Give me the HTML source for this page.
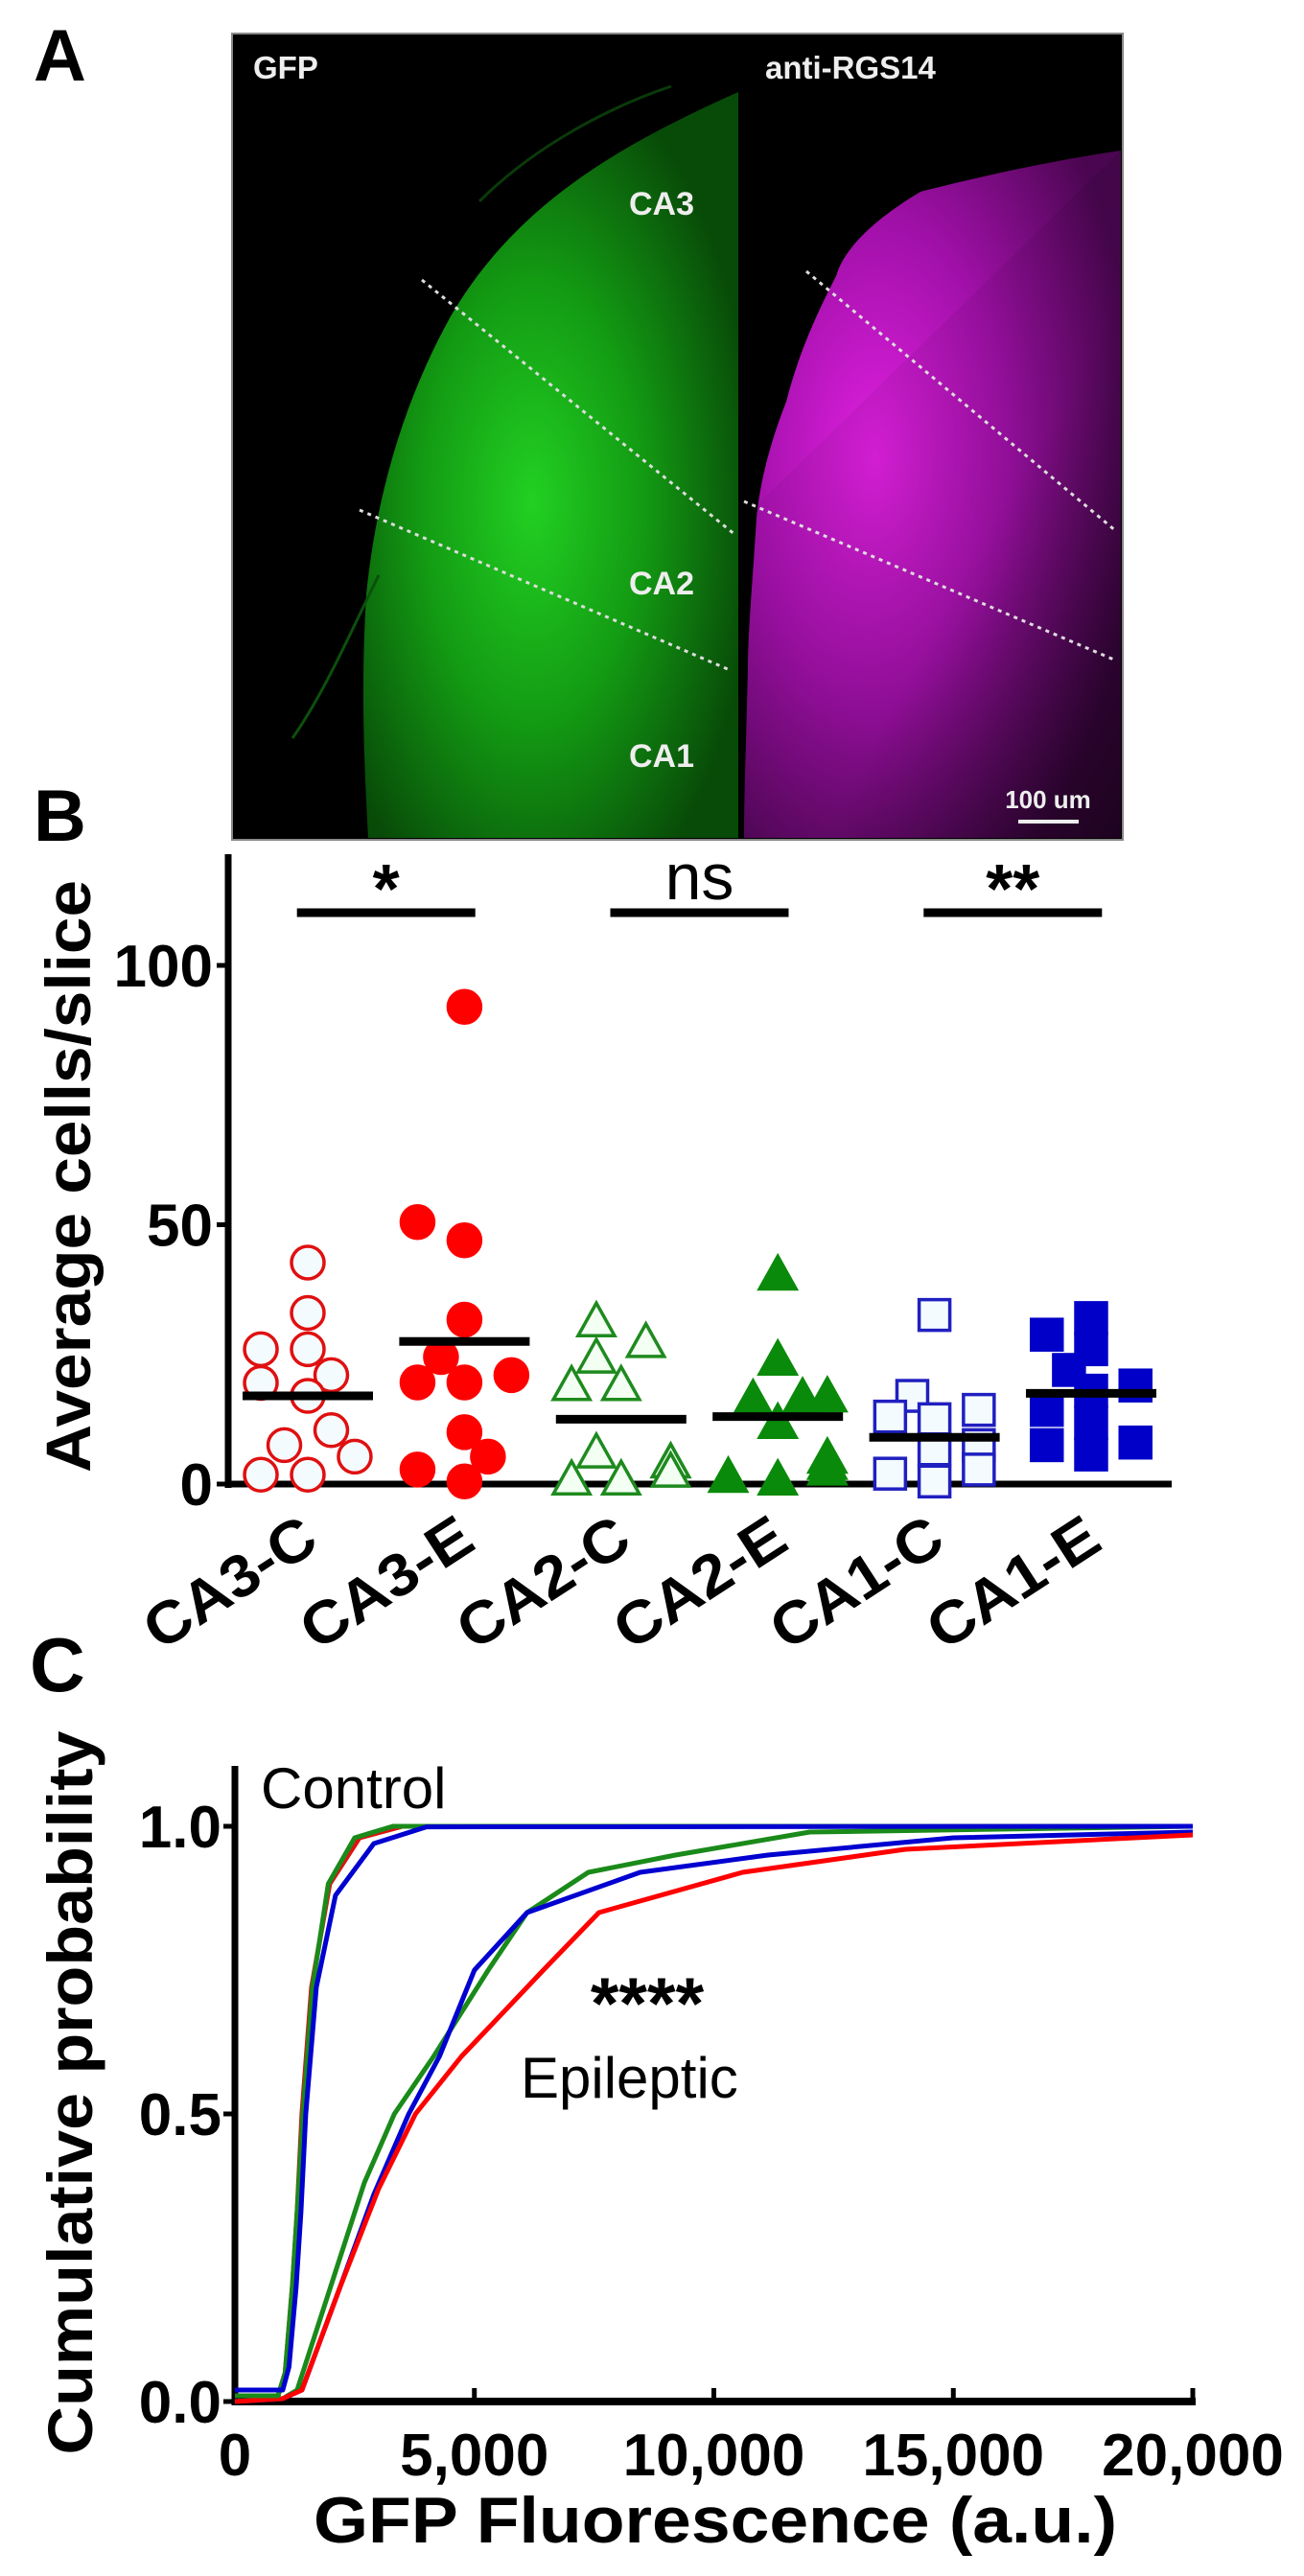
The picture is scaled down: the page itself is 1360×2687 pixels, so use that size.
<!DOCTYPE html>
<html><head><meta charset="utf-8"><style>
html,body{margin:0;padding:0;background:#fff;}
svg{display:block;}
text{font-family:"Liberation Sans",Arial,sans-serif;}
</style></head><body>
<svg id="fig" width="1360" height="2687" viewBox="0 0 1360 2687" xmlns="http://www.w3.org/2000/svg">
<defs>
<radialGradient id="gG" cx="0.45" cy="0.55" r="0.6">
<stop offset="0" stop-color="#22d022"/><stop offset="0.5" stop-color="#139a13"/><stop offset="1" stop-color="#084a08"/>
</radialGradient>
<radialGradient id="gM" cx="0.35" cy="0.45" r="0.7">
<stop offset="0" stop-color="#e020e0"/><stop offset="0.5" stop-color="#a010a8"/><stop offset="1" stop-color="#4a0650"/>
</radialGradient>
<linearGradient id="gMfade" x1="0" y1="0" x2="1" y2="1">
<stop offset="0" stop-color="#000" stop-opacity="0"/><stop offset="0.6" stop-color="#000" stop-opacity="0.1"/><stop offset="1" stop-color="#000" stop-opacity="0.6"/>
</linearGradient>
</defs>

<!-- Panel labels -->
<text x="35" y="84" font-size="76" font-weight="bold">A</text>
<text x="35" y="877" font-size="76" font-weight="bold">B</text>
<text x="31" y="1764" font-size="80" font-weight="bold">C</text>

<!-- Panel A micrograph -->
<g>
<rect x="242" y="35" width="929" height="841" fill="#000" stroke="#888" stroke-width="2"/>
<path d="M770,96 C650,150 540,210 470,330 C420,420 392,520 382,620 C376,720 380,800 384,874 L770,874 Z" fill="url(#gG)"/>
<path d="M500,210 C560,150 640,110 700,90" stroke="#0a3a0a" stroke-width="3" fill="none"/>
<path d="M395,600 C370,650 340,720 305,770" stroke="#0b500b" stroke-width="3" fill="none"/>
<path d="M1169,157 C1080,170 1000,190 960,200 C910,230 880,260 872,288 C845,340 830,380 820,419 C800,470 792,510 789,540 C784,620 780,660 780,698 C778,780 776,830 776,874 L1169,874 Z" fill="url(#gM)"/>
<path d="M1169,157 L1169,874 L776,874 L776,540 Z" fill="url(#gMfade)"/>
<line x1="440" y1="292" x2="767" y2="558" stroke="#ddd" stroke-width="3" stroke-dasharray="4 5"/>
<line x1="375" y1="532" x2="759" y2="698" stroke="#ddd" stroke-width="3" stroke-dasharray="4 5"/>
<line x1="841" y1="283" x2="1164" y2="554" stroke="#ddd" stroke-width="3" stroke-dasharray="4 5"/>
<line x1="776" y1="523" x2="1164" y2="689" stroke="#ddd" stroke-width="3" stroke-dasharray="4 5"/>
<text x="264" y="82" font-size="33" font-weight="bold" fill="#eee">GFP</text>
<text x="798" y="82" font-size="33" font-weight="bold" fill="#eee">anti-RGS14</text>
<text x="690" y="224" font-size="34" font-weight="bold" fill="#eee" text-anchor="middle">CA3</text>
<text x="690" y="620" font-size="34" font-weight="bold" fill="#eee" text-anchor="middle">CA2</text>
<text x="690" y="800" font-size="34" font-weight="bold" fill="#eee" text-anchor="middle">CA1</text>
<text x="1093" y="843" font-size="26" font-weight="bold" fill="#eee" text-anchor="middle">100 um</text>
<line x1="1062" y1="857" x2="1125" y2="857" stroke="#eee" stroke-width="4"/>
</g>

<g id="panelB"></g>
<g id="panelC"></g>
</svg>

<script>
// ---------- Panel B data ----------
const categories = ["CA3-C","CA3-E","CA2-C","CA2-E","CA1-C","CA1-E"];
const ca3cValues = [42.7,33,26,26,19.5,21,17,7.5,10.4,5.3,1.8,1.8];
const ca3eValues = [92,50.5,47,31.7,24.5,19.6,19.6,21,10,2.8,5.3,0.5];
const ca2cValues = [31,27,24,18.7,18.7,5.7,3.8,3.8,2,0.5,0.5];
const ca2eValues = [40,23.6,16.3,16,16.5,11.4,4.7,3.5,2.4,1,0.5];
const ca1cValues = [32.6,17,14.3,13,12.5,7.5,6.7,2.8,2,0.5];
const ca1eValues = [32,28.8,26,22,18,19,14.3,11.8,7.5,8,5.7];
const meanValues = [17,27.5,12.5,13,9,17.5];
const yTicksB = [0,50,100];
const sigLabels = ["*","ns","**"];

// ---------- Panel C data ----------
const xTicksC = [0,5000,10000,15000,20000];
const xTickLabelsC = ["0","5,000","10,000","15,000","20,000"];
const yTicksC = [0,0.5,1.0];
const yTickLabelsC = ["0.0","0.5","1.0"];
const ctrlRedX = [0,900,1050,1200,1300,1400,1600,1980,2600,3500,20000];
const ctrlRedY = [0.01,0.01,0.05,0.2,0.33,0.5,0.72,0.9,0.98,1.0,1.0];
const ctrlGreenX = [0,900,1050,1200,1300,1420,1620,1950,2500,3300,20000];
const ctrlGreenY = [0.01,0.01,0.05,0.2,0.33,0.5,0.72,0.9,0.98,1.0,1.0];
const ctrlBlueX = [0,1000,1130,1280,1380,1480,1700,2100,2900,4000,20000];
const ctrlBlueY = [0.02,0.02,0.06,0.2,0.33,0.5,0.72,0.88,0.97,0.999,1.0];
const epiRedX = [0,1000,1400,2200,3000,3770,4730,6440,7600,10600,14000,20000];
const epiRedY = [0,0.005,0.02,0.2,0.37,0.5,0.6,0.75,0.85,0.92,0.96,0.985];
const epiGreenX = [0,1000,1300,2000,2700,3330,4150,5290,6100,7380,9200,12000,20000];
const epiGreenY = [0,0.005,0.02,0.2,0.38,0.5,0.6,0.75,0.85,0.92,0.95,0.99,1.0];
const epiBlueX = [0,1000,1400,2200,2900,3630,4270,5000,6100,8460,11130,15000,20000];
const epiBlueY = [0,0.005,0.02,0.2,0.36,0.5,0.6,0.75,0.85,0.92,0.95,0.98,0.99];

const NS = "http://www.w3.org/2000/svg";
function mk(tag, attrs, parent) {
  const e = document.createElementNS(NS, tag);
  for (const k in attrs) e.setAttribute(k, attrs[k]);
  parent.appendChild(e);
  return e;
}

// ---------- Panel B ----------
const gB = document.getElementById('panelB');
const bX0 = 238, bX1 = 1222, bY0 = 1548, bYtop = 891;
const bPerUnit = (1548 - 1007) / 100;
function yB(v) { return bY0 - v * bPerUnit; }
function xCat(i) { return 321 + i * 163.4; }

// axes
let ax = mk('line', {x1: bX0, y1: bYtop, x2: bX0, y2: bY0 + 4, stroke: '#000', 'stroke-width': 7}, gB);


ax = mk('line', {x1: bX0 - 3, y1: bY0, x2: bX1, y2: bY0, stroke: '#000', 'stroke-width': 7}, gB);


yTicksB.forEach(function (t) {
  const tk = mk('line', {x1: bX0 - 12, y1: yB(t), x2: bX0, y2: yB(t), stroke: '#000', 'stroke-width': 5}, gB);
  
  
  const tl = mk('text', {x: 222, y: yB(t) + 22, 'font-size': 62, 'font-weight': 'bold', 'text-anchor': 'end'}, gB);
  tl.textContent = String(t);
  
  
});
let yt = mk('text', {x: 0, y: 0, 'font-size': 66, 'font-weight': 'bold', 'text-anchor': 'middle', transform: 'translate(94,1227) rotate(-90)', textLength: 618, lengthAdjust: 'spacingAndGlyphs'}, gB);
yt.textContent = 'Average cells/slice';



// category labels
categories.forEach(function (c, i) {
  const t = mk('text', {x: 0, y: 0, 'font-size': 62, 'font-weight': 'bold', 'text-anchor': 'end', transform: 'translate(' + (xCat(i) + 14) + ',1614) rotate(-33)', textLength: 200, lengthAdjust: 'spacingAndGlyphs'}, gB);
  t.textContent = c;
  
  
});

// markers
const groups = [
  {vals: ca3cValues, shape: 'circle', color: '#e01010', filled: false},
  {vals: ca3eValues, shape: 'circle', color: '#ff0000', filled: true},
  {vals: ca2cValues, shape: 'tri', color: '#1e8a1e', filled: false},
  {vals: ca2eValues, shape: 'tri', color: '#0a8a0a', filled: true},
  {vals: ca1cValues, shape: 'square', color: '#2020c0', filled: false},
  {vals: ca1eValues, shape: 'square', color: '#0000c8', filled: true}
];
function swarm(vals, cx, size) {
  const order = vals.map(function (v, i) { return i; }).sort(function (a, b) { return vals[a] - vals[b]; });
  const placed = [];
  const xs = new Array(vals.length);
  const offs = [0, -1, 1, -2, 2];
  order.forEach(function (i) {
    const y = yB(vals[i]);
    for (let k = 0; k < offs.length; k++) {
      const x = cx + offs[k] * size * 0.68;
      let ok = true;
      for (const p of placed) {
        if (Math.hypot(p[0] - x, p[1] - y) < size * 0.9) { ok = false; break; }
      }
      if (ok || k === offs.length - 1) { xs[i] = x; placed.push([x, y]); break; }
    }
  });
  return xs;
}
groups.forEach(function (g, gi) {
  const size = g.shape === 'circle' ? 36 : (g.shape === 'tri' ? 38 : 34);
  const xs = swarm(g.vals, xCat(gi), size);
  g.vals.forEach(function (v, i) {
    const x = xs[i], y = yB(v);
    const fill = g.filled ? g.color : '#f4fbff';
    let m;
    if (g.shape === 'circle') {
      m = mk('circle', {cx: x, cy: y, r: 17, fill: fill, stroke: g.color, 'stroke-width': 3.5}, gB);
    } else if (g.shape === 'tri') {
      const h = 34, w = 38;
      m = mk('polygon', {points: x + ',' + (y - h * 0.62) + ' ' + (x - w / 2) + ',' + (y + h * 0.38) + ' ' + (x + w / 2) + ',' + (y + h * 0.38), fill: g.filled ? g.color : '#f2fff2', stroke: g.color, 'stroke-width': 3.5}, gB);
    } else {
      m = mk('rect', {x: x - 16, y: y - 16, width: 32, height: 32, fill: fill, stroke: g.color, 'stroke-width': 3.5}, gB);
    }
    
    
  });
});
meanValues.forEach(function (v, i) {
  const l = mk('line', {x1: xCat(i) - 68, y1: yB(v), x2: xCat(i) + 68, y2: yB(v), stroke: '#000', 'stroke-width': 9}, gB);
  
  
});
sigLabels.forEach(function (s, k) {
  const cx = (xCat(2 * k) + xCat(2 * k + 1)) / 2;
  const b = mk('line', {x1: cx - 93, y1: 952, x2: cx + 93, y2: 952, stroke: '#000', 'stroke-width': 9}, gB);
  
  
  const t = mk('text', {x: cx, y: s === 'ns' ? 938 : 952, 'font-size': s === 'ns' ? 68 : 72, 'font-weight': s === 'ns' ? 'normal' : 'bold', 'text-anchor': 'middle'}, gB);
  t.textContent = s;
  
  
});

// ---------- Panel C ----------
const gC = document.getElementById('panelC');
const cX0 = 245, cX1 = 1244, cY0 = 2505, cYtop = 1842;
function xC(v) { return cX0 + v * (cX1 - cX0) / 20000; }
function yC(p) { return cY0 - p * 600; }

let a2 = mk('line', {x1: cX0, y1: cYtop, x2: cX0, y2: cY0 + 4, stroke: '#000', 'stroke-width': 7}, gC);


a2 = mk('line', {x1: cX0 - 3, y1: cY0, x2: cX1 + 3, y2: cY0, stroke: '#000', 'stroke-width': 8}, gC);


yTicksC.forEach(function (t, i) {
  const tk = mk('line', {x1: cX0 - 12, y1: yC(t), x2: cX0, y2: yC(t), stroke: '#000', 'stroke-width': 5}, gC);
  
  
  const tl = mk('text', {x: 231, y: yC(t) + 22, 'font-size': 62, 'font-weight': 'bold', 'text-anchor': 'end'}, gC);
  tl.textContent = yTickLabelsC[i];
  
  
});
xTicksC.forEach(function (t, i) {
  const tk = mk('line', {x1: xC(t), y1: cY0 - 14, x2: xC(t), y2: cY0, stroke: '#000', 'stroke-width': 5}, gC);
  
  
  const tl = mk('text', {x: xC(t), y: 2582, 'font-size': 62, 'font-weight': 'bold', 'text-anchor': 'middle'}, gC);
  tl.textContent = xTickLabelsC[i];
  
  
});
let xtC = mk('text', {x: 746, y: 2652, 'font-size': 68, 'font-weight': 'bold', 'text-anchor': 'middle', textLength: 838, lengthAdjust: 'spacingAndGlyphs'}, gC);
xtC.textContent = 'GFP Fluorescence (a.u.)';


let ytC = mk('text', {x: 0, y: 0, 'font-size': 66, 'font-weight': 'bold', 'text-anchor': 'middle', transform: 'translate(96,2183) rotate(-90)', textLength: 755, lengthAdjust: 'spacingAndGlyphs'}, gC);
ytC.textContent = 'Cumulative probability';



function curve(xs, ys, color, name) {
  let d = '';
  xs.forEach(function (x, i) { d += (i ? 'L' : 'M') + xC(x).toFixed(1) + ',' + yC(ys[i]).toFixed(1); });
  const p = mk('path', {d: d, fill: 'none', stroke: color, 'stroke-width': 5, 'stroke-linejoin': 'round'}, gC);
  
  
}
curve(epiGreenX, epiGreenY, '#1a8a1a', 'curve-ca2-epileptic');
curve(epiBlueX, epiBlueY, '#0000d0', 'curve-ca1-epileptic');
curve(epiRedX, epiRedY, '#ff0000', 'curve-ca3-epileptic');
curve(ctrlRedX, ctrlRedY, '#e01010', 'curve-ca3-control');
curve(ctrlGreenX, ctrlGreenY, '#1a8a1a', 'curve-ca2-control');
curve(ctrlBlueX, ctrlBlueY, '#0000d0', 'curve-ca1-control');

let lab = mk('text', {x: 272, y: 1886, 'font-size': 60}, gC);
lab.textContent = 'Control';


lab = mk('text', {x: 543, y: 2188, 'font-size': 60}, gC);
lab.textContent = 'Epileptic';


lab = mk('text', {x: 675, y: 2116, 'font-size': 76, 'font-weight': 'bold', 'text-anchor': 'middle'}, gC);
lab.textContent = '****';


</script>
</body></html>
